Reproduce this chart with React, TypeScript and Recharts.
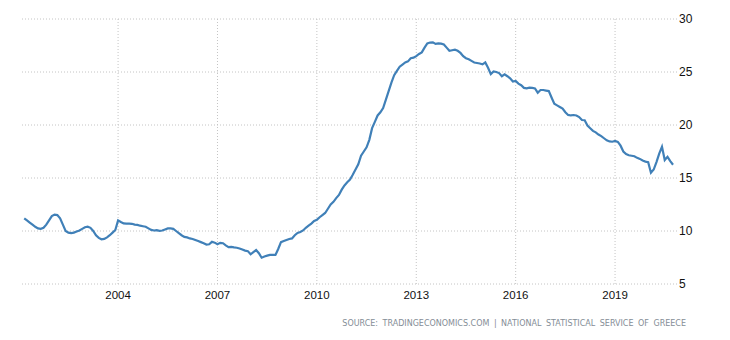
import React from "react"
import { LineChart, Line, XAxis, YAxis, CartesianGrid } from "recharts"

// Greece unemployment rate (%), monthly, first value = March 2001
const firstYear = 2001
const firstMonth = 2 // 0 = January
const unemployment = [
  11.2, 11.0, 10.8, 10.6, 10.4, 10.25, 10.2, 10.3, 10.6, 11.0,
  11.4, 11.55, 11.5, 11.2, 10.6, 10.0, 9.85, 9.8, 9.85, 9.95, 10.05, 10.2,
  10.35, 10.4, 10.3, 10.0, 9.6, 9.35, 9.22, 9.25, 9.4, 9.6, 9.85, 10.1,
  11.0, 10.85, 10.72, 10.7, 10.7, 10.68, 10.6, 10.58, 10.5, 10.45, 10.4, 10.25,
  10.1, 10.05, 10.08, 10.02, 10.05, 10.15, 10.25, 10.25, 10.2, 10.0, 9.8, 9.6,
  9.45, 9.4, 9.3, 9.25, 9.15, 9.05, 8.95, 8.85, 8.72, 8.75, 8.98, 8.9,
  8.75, 8.88, 8.85, 8.65, 8.48, 8.5, 8.45, 8.42, 8.35, 8.25, 8.15, 8.1,
  7.8, 8.0, 8.2, 7.9, 7.48, 7.6, 7.68, 7.74, 7.76, 7.74, 8.3, 8.95,
  9.05, 9.15, 9.25, 9.3, 9.6, 9.82, 9.9, 10.05, 10.3, 10.5, 10.7, 10.95,
  11.05, 11.3, 11.5, 11.7, 12.1, 12.5, 12.75, 13.1, 13.4, 13.9, 14.3, 14.6,
  14.85, 15.3, 15.8, 16.3, 17.1, 17.5, 17.9, 18.6, 19.7, 20.3, 20.9, 21.2,
  21.6, 22.4, 23.2, 24.0, 24.7, 25.1, 25.5, 25.7, 25.9, 26.0, 26.3, 26.35,
  26.5, 26.7, 26.85, 27.3, 27.7, 27.78, 27.8, 27.65, 27.7, 27.68, 27.6, 27.3,
  27.0, 27.05, 27.1, 27.0, 26.8, 26.5, 26.3, 26.2, 26.05, 25.9, 25.85, 25.8,
  25.72, 25.9, 25.4, 24.8, 25.05, 25.0, 24.9, 24.6, 24.78, 24.6, 24.4, 24.1,
  24.15, 23.9, 23.75, 23.5, 23.45, 23.52, 23.5, 23.45, 23.05, 23.3, 23.3, 23.25,
  23.2, 22.6, 22.0, 21.85, 21.7, 21.55, 21.2, 20.95, 20.9, 20.94, 20.9, 20.75,
  20.47, 20.45, 19.95, 19.7, 19.45, 19.3, 19.1, 18.95, 18.75, 18.55, 18.45, 18.42,
  18.5, 18.4, 18.05, 17.5, 17.25, 17.15, 17.1, 17.05, 16.9, 16.8, 16.65, 16.55,
  16.5, 15.5, 15.8, 16.5, 17.3, 17.95, 16.7, 17.0, 16.6, 16.25,
]
const yearTicks = [2004, 2007, 2010, 2013, 2016, 2019]
const rateTicks = [5, 10, 15, 20, 25, 30]
const sourceText = "SOURCE: TRADINGECONOMICS.COM | NATIONAL STATISTICAL SERVICE OF GREECE"

const data = unemployment.map((rate, i) => ({
  t: firstYear + (firstMonth + i) / 12,
  rate,
}))

const font = "'Liberation Sans', Arial, sans-serif"

export default function App() {
  return (
    <div style={{ position: "absolute", left: 0, top: 0, width: 730, height: 340, background: "#fff" }}>
      <LineChart width={730} height={340} data={data} margin={{ top: 19, right: 0, bottom: 26, left: 22 }}>
        <CartesianGrid stroke="#c4c4c4" strokeDasharray="1 2" verticalValues={yearTicks} />
        <XAxis
          dataKey="t"
          type="number"
          domain={[2001.1, 2020.9]}
          ticks={yearTicks}
          axisLine={false}
          tickLine={false}
          tickSize={0}
          tickMargin={7}
          height={30}
          tick={{ fontSize: 11.5, fill: "#111", fontFamily: font }}
          allowDataOverflow
        />
        <YAxis
          orientation="right"
          domain={[5, 30]}
          ticks={rateTicks}
          axisLine={false}
          tickLine={false}
          tickSize={0}
          tickMargin={1}
          width={52}
          tick={{ fontSize: 12, fill: "#111", fontFamily: font }}
        />
        <Line
          type="linear"
          dataKey="rate"
          stroke="#4080b8"
          strokeWidth={2.2}
          dot={false}
          isAnimationActive={false}
        />
        <text
          x={686}
          y={326}
          textAnchor="end"
          fontSize={8}
          fill="#848d96"
          fontFamily="'DejaVu Sans', Verdana, sans-serif"
          wordSpacing={2}
        >
          {sourceText}
        </text>
      </LineChart>
    </div>
  )
}
